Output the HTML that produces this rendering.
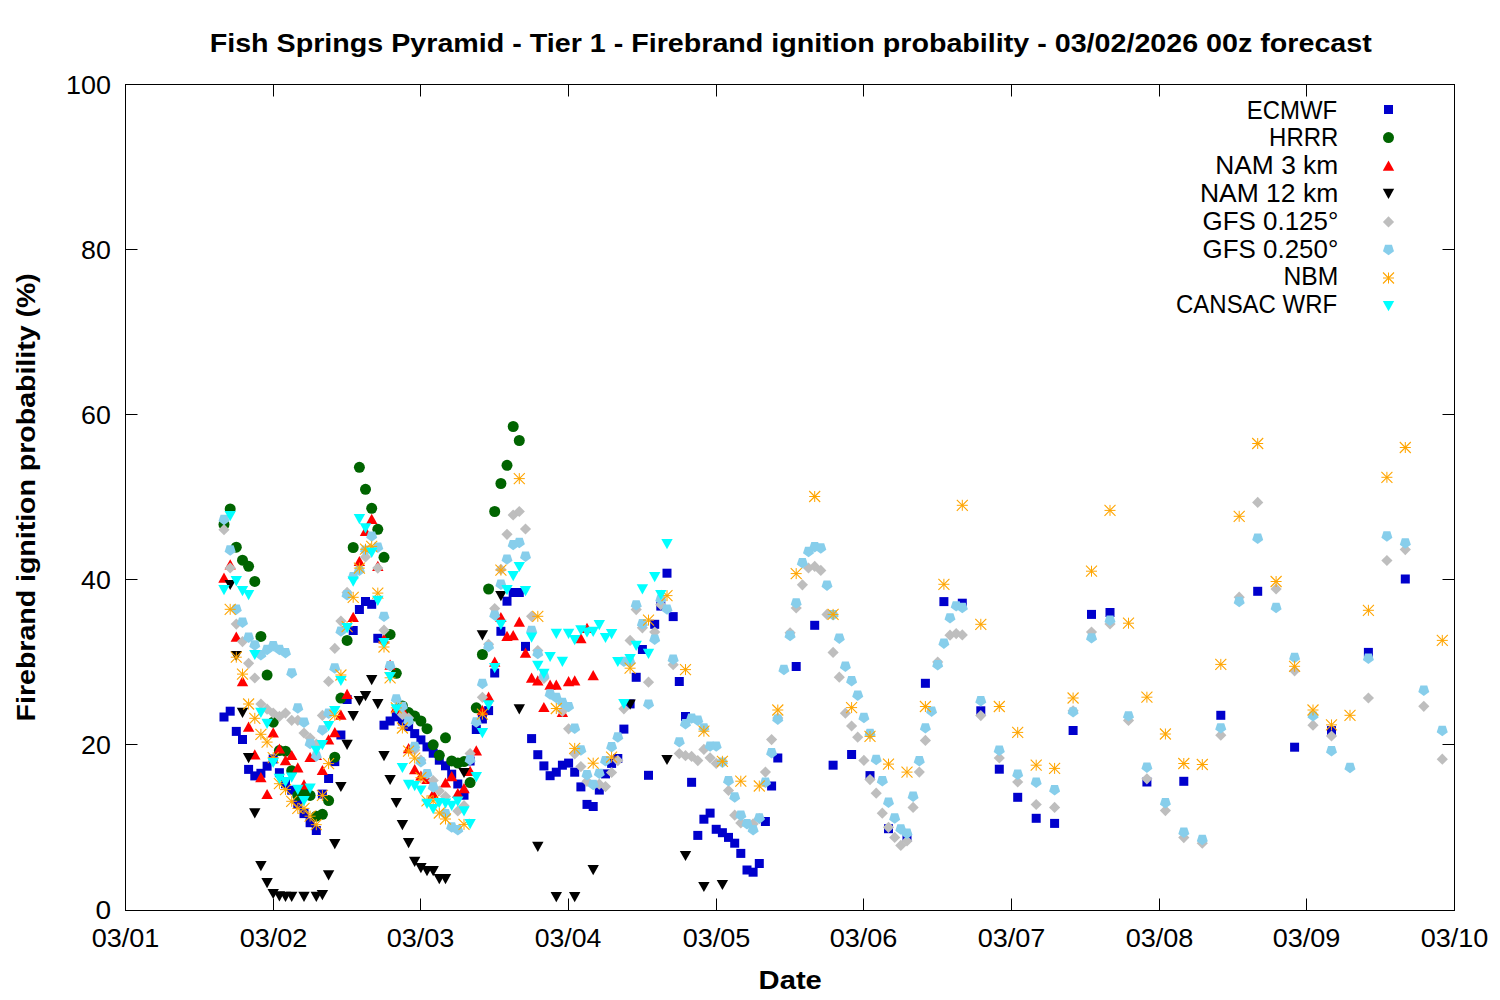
<!DOCTYPE html>
<html><head><meta charset="utf-8"><title>Fish Springs Pyramid - Firebrand ignition probability</title>
<style>
html,body{margin:0;padding:0;background:#fff;}
svg{display:block;}
.t{font-family:"Liberation Sans",sans-serif;fill:#000;}
.b{font-family:"Liberation Sans",sans-serif;font-weight:bold;fill:#000;}
</style></head><body>
<svg width="1500" height="1000" viewBox="0 0 1500 1000"><rect x="125.5" y="84.5" width="1329.0" height="826.0" fill="none" stroke="#000" stroke-width="1"/><path d="M125.5 744.5h12M1454.5 744.5h-12M125.5 579.5h12M1454.5 579.5h-12M125.5 414.5h12M1454.5 414.5h-12M125.5 249.5h12M1454.5 249.5h-12M273.50 910.5v-12M273.50 84.5v12M420.50 910.5v-12M420.50 84.5v12M568.50 910.5v-12M568.50 84.5v12M716.50 910.5v-12M716.50 84.5v12M863.50 910.5v-12M863.50 84.5v12M1011.50 910.5v-12M1011.50 84.5v12M1159.50 910.5v-12M1159.50 84.5v12M1306.50 910.5v-12M1306.50 84.5v12" stroke="#000" stroke-width="1" fill="none"/><text x="209.70" y="51.50" class="b" font-size="26.2" textLength="1162.10" lengthAdjust="spacingAndGlyphs">Fish Springs Pyramid - Tier 1 - Firebrand ignition probability - 03/02/2026 00z forecast</text><text x="758.60" y="989.20" class="b" font-size="26.2" textLength="63.26" lengthAdjust="spacingAndGlyphs">Date</text><text x="95.40" y="919.20" class="t" font-size="25.5" textLength="15.61" lengthAdjust="spacingAndGlyphs">0</text><text x="81.00" y="754.20" class="t" font-size="25.5" textLength="29.80" lengthAdjust="spacingAndGlyphs">20</text><text x="81.00" y="589.20" class="t" font-size="25.5" textLength="29.80" lengthAdjust="spacingAndGlyphs">40</text><text x="81.00" y="424.20" class="t" font-size="25.5" textLength="29.80" lengthAdjust="spacingAndGlyphs">60</text><text x="81.00" y="259.20" class="t" font-size="25.5" textLength="29.80" lengthAdjust="spacingAndGlyphs">80</text><text x="65.90" y="94.20" class="t" font-size="25.5" textLength="45.00" lengthAdjust="spacingAndGlyphs">100</text><text x="91.65" y="947.10" class="t" font-size="25.5" textLength="67.74" lengthAdjust="spacingAndGlyphs">03/01</text><text x="239.65" y="947.10" class="t" font-size="25.5" textLength="67.79" lengthAdjust="spacingAndGlyphs">03/02</text><text x="386.66" y="947.10" class="t" font-size="25.5" textLength="67.74" lengthAdjust="spacingAndGlyphs">03/03</text><text x="534.66" y="947.10" class="t" font-size="25.5" textLength="66.70" lengthAdjust="spacingAndGlyphs">03/04</text><text x="682.66" y="947.10" class="t" font-size="25.5" textLength="67.73" lengthAdjust="spacingAndGlyphs">03/05</text><text x="829.67" y="947.10" class="t" font-size="25.5" textLength="67.74" lengthAdjust="spacingAndGlyphs">03/06</text><text x="977.67" y="947.10" class="t" font-size="25.5" textLength="67.73" lengthAdjust="spacingAndGlyphs">03/07</text><text x="1125.67" y="947.10" class="t" font-size="25.5" textLength="67.73" lengthAdjust="spacingAndGlyphs">03/08</text><text x="1272.67" y="947.10" class="t" font-size="25.5" textLength="67.74" lengthAdjust="spacingAndGlyphs">03/09</text><text x="1420.68" y="947.10" class="t" font-size="25.5" textLength="67.73" lengthAdjust="spacingAndGlyphs">03/10</text><text x="1246.75" y="118.70" class="t" font-size="25.5" textLength="90.48" lengthAdjust="spacingAndGlyphs">ECMWF</text><text x="1269.10" y="145.80" class="t" font-size="25.5" textLength="69.19" lengthAdjust="spacingAndGlyphs">HRRR</text><text x="1215.25" y="173.90" class="t" font-size="25.5" textLength="123.00" lengthAdjust="spacingAndGlyphs">NAM 3 km</text><text x="1199.90" y="202.00" class="t" font-size="25.5" textLength="138.35" lengthAdjust="spacingAndGlyphs">NAM 12 km</text><text x="1202.60" y="230.10" class="t" font-size="25.5" textLength="135.65" lengthAdjust="spacingAndGlyphs">GFS 0.125°</text><text x="1202.60" y="258.20" class="t" font-size="25.5" textLength="135.65" lengthAdjust="spacingAndGlyphs">GFS 0.250°</text><text x="1283.50" y="285.30" class="t" font-size="25.5" textLength="54.81" lengthAdjust="spacingAndGlyphs">NBM</text><text x="1176.00" y="313.40" class="t" font-size="25.5" textLength="161.20" lengthAdjust="spacingAndGlyphs">CANSAC WRF</text><text transform="translate(34.60 721.40) rotate(-90)" class="b" font-size="26.4" textLength="448.21" lengthAdjust="spacingAndGlyphs">Firebrand ignition probability (%)</text><g fill="#0000cc"><rect x="1384.0" y="105.0" width="9" height="9"/></g><g fill="#006400"><circle cx="1388.5" cy="137.6" r="5.5"/></g><g fill="#ff0000"><path d="M1388.5 160.5L1394.2 170.7H1382.8Z"/></g><g fill="#000000"><path d="M1382.8 188.8H1394.2L1388.5 199.0Z"/></g><g fill="#bebebe"><path d="M1388.5 216.3L1394.1 221.9L1388.5 227.5L1382.9 221.9Z"/></g><g fill="#87ceeb"><path d="M1388.5 255.2L1383.0 251.2L1385.1 244.7L1391.9 244.7L1394.0 251.2Z"/></g><g stroke="#ffa500" stroke-width="1" fill="none"><path d="M1383.0 278.0H1394.0M1388.5 272.5V283.5"/><path stroke-width="1.1" d="M1383.0 272.5L1394.0 283.5M1383.0 283.5L1394.0 272.5"/></g><g fill="#00ffff"><path d="M1382.8 301.1H1394.2L1388.5 311.3Z"/></g><g fill="#0000cc"><rect x="219.5" y="712.5" width="9" height="9"/><rect x="225.7" y="706.7" width="9" height="9"/><rect x="231.8" y="726.9" width="9" height="9"/><rect x="238.0" y="735.0" width="9" height="9"/><rect x="244.1" y="764.9" width="9" height="9"/><rect x="250.3" y="771.4" width="9" height="9"/><rect x="256.4" y="768.8" width="9" height="9"/><rect x="262.6" y="761.7" width="9" height="9"/><rect x="268.7" y="754.5" width="9" height="9"/><rect x="274.9" y="768.2" width="9" height="9"/><rect x="281.0" y="779.2" width="9" height="9"/><rect x="287.2" y="785.7" width="9" height="9"/><rect x="293.3" y="800.0" width="9" height="9"/><rect x="299.5" y="809.1" width="9" height="9"/><rect x="305.6" y="818.2" width="9" height="9"/><rect x="311.8" y="826.0" width="9" height="9"/><rect x="317.9" y="789.6" width="9" height="9"/><rect x="324.1" y="774.0" width="9" height="9"/><rect x="330.3" y="757.1" width="9" height="9"/><rect x="336.4" y="730.5" width="9" height="9"/><rect x="342.6" y="695.0" width="9" height="9"/><rect x="348.7" y="626.0" width="9" height="9"/><rect x="354.9" y="605.0" width="9" height="9"/><rect x="361.0" y="597.0" width="9" height="9"/><rect x="367.2" y="599.8" width="9" height="9"/><rect x="373.3" y="633.8" width="9" height="9"/><rect x="379.5" y="720.7" width="9" height="9"/><rect x="385.6" y="716.5" width="9" height="9"/><rect x="391.8" y="712.3" width="9" height="9"/><rect x="397.9" y="716.5" width="9" height="9"/><rect x="404.1" y="722.1" width="9" height="9"/><rect x="410.2" y="729.1" width="9" height="9"/><rect x="416.4" y="735.4" width="9" height="9"/><rect x="422.5" y="742.4" width="9" height="9"/><rect x="428.7" y="748.7" width="9" height="9"/><rect x="434.8" y="755.7" width="9" height="9"/><rect x="441.0" y="761.3" width="9" height="9"/><rect x="447.2" y="769.7" width="9" height="9"/><rect x="453.3" y="779.5" width="9" height="9"/><rect x="459.5" y="790.7" width="9" height="9"/><rect x="465.6" y="756.5" width="9" height="9"/><rect x="471.8" y="725.0" width="9" height="9"/><rect x="477.9" y="714.5" width="9" height="9"/><rect x="484.1" y="706.1" width="9" height="9"/><rect x="490.2" y="668.5" width="9" height="9"/><rect x="496.4" y="626.8" width="9" height="9"/><rect x="502.5" y="596.7" width="9" height="9"/><rect x="508.7" y="588.0" width="9" height="9"/><rect x="514.8" y="588.0" width="9" height="9"/><rect x="521.0" y="641.9" width="9" height="9"/><rect x="527.1" y="734.1" width="9" height="9"/><rect x="533.3" y="750.2" width="9" height="9"/><rect x="539.4" y="761.4" width="9" height="9"/><rect x="545.6" y="771.2" width="9" height="9"/><rect x="551.8" y="767.7" width="9" height="9"/><rect x="557.9" y="760.7" width="9" height="9"/><rect x="564.1" y="758.6" width="9" height="9"/><rect x="570.2" y="767.7" width="9" height="9"/><rect x="576.4" y="782.4" width="9" height="9"/><rect x="582.5" y="799.9" width="9" height="9"/><rect x="588.7" y="802.0" width="9" height="9"/><rect x="594.8" y="785.6" width="9" height="9"/><rect x="601.0" y="769.4" width="9" height="9"/><rect x="607.1" y="758.9" width="9" height="9"/><rect x="613.3" y="754.0" width="9" height="9"/><rect x="619.4" y="724.6" width="9" height="9"/><rect x="625.6" y="699.4" width="9" height="9"/><rect x="631.7" y="672.8" width="9" height="9"/><rect x="637.9" y="645.0" width="9" height="9"/><rect x="644.0" y="770.8" width="9" height="9"/><rect x="650.2" y="619.8" width="9" height="9"/><rect x="656.3" y="601.6" width="9" height="9"/><rect x="662.5" y="568.7" width="9" height="9"/><rect x="668.7" y="612.1" width="9" height="9"/><rect x="674.8" y="677.0" width="9" height="9"/><rect x="681.0" y="712.0" width="9" height="9"/><rect x="687.1" y="777.8" width="9" height="9"/><rect x="693.3" y="830.9" width="9" height="9"/><rect x="699.4" y="814.7" width="9" height="9"/><rect x="705.6" y="808.6" width="9" height="9"/><rect x="711.7" y="824.8" width="9" height="9"/><rect x="717.9" y="828.2" width="9" height="9"/><rect x="724.0" y="832.9" width="9" height="9"/><rect x="730.2" y="838.7" width="9" height="9"/><rect x="736.3" y="848.9" width="9" height="9"/><rect x="742.5" y="865.5" width="9" height="9"/><rect x="748.6" y="867.7" width="9" height="9"/><rect x="754.8" y="859.0" width="9" height="9"/><rect x="760.9" y="817.0" width="9" height="9"/><rect x="767.1" y="781.5" width="9" height="9"/><rect x="773.3" y="753.5" width="9" height="9"/><rect x="791.7" y="662.0" width="9" height="9"/><rect x="810.2" y="620.8" width="9" height="9"/><rect x="828.6" y="760.7" width="9" height="9"/><rect x="847.1" y="750.0" width="9" height="9"/><rect x="865.5" y="771.1" width="9" height="9"/><rect x="884.0" y="824.2" width="9" height="9"/><rect x="902.5" y="832.9" width="9" height="9"/><rect x="920.9" y="678.8" width="9" height="9"/><rect x="939.4" y="597.1" width="9" height="9"/><rect x="957.8" y="598.7" width="9" height="9"/><rect x="976.3" y="706.3" width="9" height="9"/><rect x="994.8" y="764.7" width="9" height="9"/><rect x="1013.2" y="792.8" width="9" height="9"/><rect x="1031.7" y="813.8" width="9" height="9"/><rect x="1050.1" y="818.9" width="9" height="9"/><rect x="1068.6" y="726.0" width="9" height="9"/><rect x="1087.0" y="609.9" width="9" height="9"/><rect x="1105.5" y="608.0" width="9" height="9"/><rect x="1142.4" y="777.5" width="9" height="9"/><rect x="1179.3" y="776.8" width="9" height="9"/><rect x="1216.3" y="710.8" width="9" height="9"/><rect x="1253.2" y="586.8" width="9" height="9"/><rect x="1290.1" y="742.7" width="9" height="9"/><rect x="1327.0" y="726.1" width="9" height="9"/><rect x="1363.9" y="647.9" width="9" height="9"/><rect x="1400.8" y="574.5" width="9" height="9"/></g><g fill="#006400"><circle cx="224.0" cy="524.5" r="5.5"/><circle cx="230.2" cy="508.9" r="5.5"/><circle cx="236.3" cy="547.2" r="5.5"/><circle cx="242.5" cy="560.2" r="5.5"/><circle cx="248.6" cy="566.3" r="5.5"/><circle cx="254.8" cy="581.4" r="5.5"/><circle cx="260.9" cy="636.4" r="5.5"/><circle cx="267.1" cy="675.1" r="5.5"/><circle cx="273.2" cy="722.2" r="5.5"/><circle cx="279.4" cy="750.6" r="5.5"/><circle cx="285.5" cy="751.2" r="5.5"/><circle cx="291.7" cy="770.7" r="5.5"/><circle cx="297.8" cy="795.4" r="5.5"/><circle cx="304.0" cy="790.9" r="5.5"/><circle cx="310.1" cy="795.4" r="5.5"/><circle cx="316.3" cy="816.2" r="5.5"/><circle cx="322.4" cy="814.3" r="5.5"/><circle cx="328.6" cy="800.6" r="5.5"/><circle cx="334.8" cy="757.2" r="5.5"/><circle cx="340.9" cy="698.1" r="5.5"/><circle cx="347.1" cy="640.4" r="5.5"/><circle cx="353.2" cy="547.5" r="5.5"/><circle cx="359.4" cy="467.3" r="5.5"/><circle cx="365.5" cy="489.3" r="5.5"/><circle cx="371.7" cy="508.3" r="5.5"/><circle cx="377.8" cy="529.3" r="5.5"/><circle cx="384.0" cy="557.3" r="5.5"/><circle cx="390.1" cy="634.4" r="5.5"/><circle cx="396.3" cy="673.3" r="5.5"/><circle cx="402.4" cy="706.0" r="5.5"/><circle cx="408.6" cy="712.6" r="5.5"/><circle cx="414.7" cy="716.1" r="5.5"/><circle cx="420.9" cy="721.0" r="5.5"/><circle cx="427.0" cy="728.7" r="5.5"/><circle cx="433.2" cy="744.8" r="5.5"/><circle cx="439.3" cy="755.3" r="5.5"/><circle cx="445.5" cy="737.8" r="5.5"/><circle cx="451.7" cy="760.9" r="5.5"/><circle cx="457.8" cy="763.0" r="5.5"/><circle cx="464.0" cy="761.6" r="5.5"/><circle cx="470.1" cy="782.6" r="5.5"/><circle cx="476.3" cy="707.8" r="5.5"/><circle cx="482.4" cy="654.5" r="5.5"/><circle cx="488.6" cy="589.0" r="5.5"/><circle cx="494.7" cy="511.5" r="5.5"/><circle cx="500.9" cy="483.5" r="5.5"/><circle cx="507.0" cy="465.3" r="5.5"/><circle cx="513.2" cy="426.5" r="5.5"/><circle cx="519.3" cy="440.5" r="5.5"/></g><g fill="#ff0000"><path d="M224.0 572.6L229.7 582.8H218.3Z"/><path d="M230.2 559.2L235.9 569.4H224.5Z"/><path d="M236.3 631.6L242.0 641.8H230.6Z"/><path d="M242.5 676.1L248.2 686.3H236.8Z"/><path d="M248.6 721.6L254.3 731.8H242.9Z"/><path d="M254.8 749.3L260.5 759.5H249.1Z"/><path d="M260.9 772.0L266.6 782.2H255.2Z"/><path d="M267.1 788.9L272.8 799.1H261.4Z"/><path d="M273.2 727.2L278.9 737.4H267.5Z"/><path d="M279.4 743.4L285.1 753.6H273.7Z"/><path d="M285.5 755.1L291.2 765.3H279.8Z"/><path d="M291.7 749.9L297.4 760.1H286.0Z"/><path d="M297.8 762.3L303.5 772.5H292.1Z"/><path d="M304.0 779.2L309.7 789.4H298.3Z"/><path d="M310.1 751.9L315.8 762.1H304.4Z"/><path d="M316.3 749.8L322.0 760.0H310.6Z"/><path d="M322.4 764.9L328.1 775.1H316.7Z"/><path d="M328.6 734.3L334.3 744.5H322.9Z"/><path d="M334.8 727.1L340.5 737.3H329.1Z"/><path d="M340.9 709.5L346.6 719.7H335.2Z"/><path d="M347.1 688.7L352.8 698.9H341.4Z"/><path d="M353.2 611.7L358.9 621.9H347.5Z"/><path d="M359.4 555.9L365.1 566.1H353.7Z"/><path d="M365.5 525.8L371.2 536.0H359.8Z"/><path d="M371.7 513.8L377.4 524.0H366.0Z"/><path d="M377.8 560.8L383.5 571.0H372.1Z"/><path d="M384.0 633.4L389.7 643.6H378.3Z"/><path d="M390.1 659.6L395.8 669.8H384.4Z"/><path d="M396.3 702.0L402.0 712.2H390.6Z"/><path d="M402.4 704.3L408.1 714.5H396.7Z"/><path d="M408.6 743.1L414.3 753.3H402.9Z"/><path d="M414.7 764.1L420.4 774.3H409.0Z"/><path d="M420.9 770.4L426.6 780.6H415.2Z"/><path d="M427.0 773.8L432.7 784.0H421.3Z"/><path d="M433.2 788.6L438.9 798.8H427.5Z"/><path d="M445.5 777.4L451.2 787.6H439.8Z"/><path d="M451.7 771.1L457.4 781.3H446.0Z"/><path d="M457.8 787.9L463.5 798.1H452.1Z"/><path d="M464.0 783.0L469.7 793.2H458.3Z"/><path d="M470.1 765.8L475.8 776.0H464.4Z"/><path d="M476.3 745.3L482.0 755.5H470.6Z"/><path d="M482.4 705.1L488.1 715.3H476.7Z"/><path d="M488.6 691.4L494.3 701.6H482.9Z"/><path d="M494.7 656.6L500.4 666.8H489.0Z"/><path d="M500.9 611.9L506.6 622.1H495.2Z"/><path d="M507.0 630.7L512.7 640.9H501.3Z"/><path d="M513.2 630.0L518.9 640.2H507.5Z"/><path d="M519.3 616.6L525.0 626.8H513.6Z"/><path d="M525.5 647.5L531.2 657.7H519.8Z"/><path d="M531.6 672.5L537.3 682.7H525.9Z"/><path d="M537.8 675.3L543.5 685.5H532.1Z"/><path d="M543.9 701.9L549.6 712.1H538.2Z"/><path d="M550.1 679.5L555.8 689.7H544.4Z"/><path d="M556.3 679.5L562.0 689.7H550.6Z"/><path d="M562.4 706.8L568.1 717.0H556.7Z"/><path d="M568.6 676.0L574.3 686.2H562.9Z"/><path d="M574.7 675.3L580.4 685.5H569.0Z"/><path d="M580.9 633.1L586.6 643.3H575.2Z"/><path d="M587.0 622.7L592.7 632.9H581.3Z"/><path d="M593.2 670.0L598.9 680.2H587.5Z"/></g><g fill="#000000"><path d="M224.5 579.9H235.9L230.2 590.1Z"/><path d="M230.6 650.9H242.0L236.3 661.1Z"/><path d="M236.8 707.7H248.2L242.5 717.9Z"/><path d="M242.9 753.0H254.3L248.6 763.2Z"/><path d="M249.1 808.2H260.5L254.8 818.4Z"/><path d="M255.2 861.0H266.6L260.9 871.2Z"/><path d="M261.4 878.0H272.8L267.1 888.2Z"/><path d="M267.5 888.9H278.9L273.2 899.1Z"/><path d="M273.7 891.3H285.1L279.4 901.5Z"/><path d="M279.8 891.8H291.2L285.5 902.0Z"/><path d="M286.0 891.8H297.4L291.7 902.0Z"/><path d="M298.3 891.8H309.7L304.0 902.0Z"/><path d="M310.6 891.8H322.0L316.3 902.0Z"/><path d="M316.7 890.0H328.1L322.4 900.2Z"/><path d="M322.9 870.2H334.3L328.6 880.4Z"/><path d="M329.1 839.0H340.5L334.8 849.2Z"/><path d="M335.2 781.9H346.6L340.9 792.1Z"/><path d="M341.4 739.8H352.8L347.1 750.0Z"/><path d="M347.5 711.1H358.9L353.2 721.3Z"/><path d="M353.7 695.9H365.1L359.4 706.1Z"/><path d="M359.8 691.0H371.2L365.5 701.2Z"/><path d="M366.0 675.0H377.4L371.7 685.2Z"/><path d="M372.1 699.0H383.5L377.8 709.2Z"/><path d="M378.3 751.0H389.7L384.0 761.2Z"/><path d="M384.4 774.9H395.8L390.1 785.1Z"/><path d="M390.6 797.9H402.0L396.3 808.1Z"/><path d="M396.7 820.0H408.1L402.4 830.2Z"/><path d="M402.9 838.0H414.3L408.6 848.2Z"/><path d="M409.0 856.8H420.4L414.7 867.0Z"/><path d="M415.2 863.1H426.6L420.9 873.3Z"/><path d="M421.3 866.0H432.7L427.0 876.2Z"/><path d="M427.5 866.0H438.9L433.2 876.2Z"/><path d="M433.6 874.0H445.0L439.3 884.2Z"/><path d="M439.8 874.0H451.2L445.5 884.2Z"/><path d="M458.3 767.9H469.7L464.0 778.1Z"/><path d="M476.7 630.2H488.1L482.4 640.4Z"/><path d="M495.2 591.0H506.6L500.9 601.2Z"/><path d="M513.6 704.2H525.0L519.3 714.4Z"/><path d="M532.1 841.8H543.5L537.8 852.0Z"/><path d="M550.6 892.1H562.0L556.3 902.3Z"/><path d="M569.0 892.1H580.4L574.7 902.3Z"/><path d="M587.5 865.0H598.9L593.2 875.2Z"/><path d="M624.4 699.6H635.8L630.1 709.8Z"/><path d="M661.3 754.9H672.7L667.0 765.1Z"/><path d="M679.8 850.9H691.2L685.5 861.1Z"/><path d="M698.2 881.9H709.6L703.9 892.1Z"/><path d="M716.7 879.9H728.1L722.4 890.1Z"/></g><g fill="#bebebe"><path d="M224.0 524.1L229.6 529.7L224.0 535.3L218.4 529.7Z"/><path d="M230.2 562.4L235.8 568.0L230.2 573.6L224.6 568.0Z"/><path d="M236.3 618.5L241.9 624.1L236.3 629.7L230.7 624.1Z"/><path d="M242.5 636.0L248.1 641.6L242.5 647.2L236.9 641.6Z"/><path d="M248.6 657.7L254.2 663.3L248.6 668.9L243.0 663.3Z"/><path d="M254.8 672.4L260.4 678.0L254.8 683.6L249.2 678.0Z"/><path d="M260.9 698.4L266.5 704.0L260.9 709.6L255.3 704.0Z"/><path d="M267.1 703.6L272.7 709.2L267.1 714.8L261.5 709.2Z"/><path d="M273.2 707.5L278.8 713.1L273.2 718.7L267.6 713.1Z"/><path d="M279.4 710.8L285.0 716.4L279.4 722.0L273.8 716.4Z"/><path d="M285.5 707.5L291.1 713.1L285.5 718.7L279.9 713.1Z"/><path d="M291.7 714.7L297.3 720.3L291.7 725.9L286.1 720.3Z"/><path d="M297.8 714.7L303.4 720.3L297.8 725.9L292.2 720.3Z"/><path d="M304.0 727.4L309.6 733.0L304.0 738.6L298.4 733.0Z"/><path d="M310.1 732.4L315.7 738.0L310.1 743.6L304.5 738.0Z"/><path d="M316.3 738.5L321.9 744.1L316.3 749.7L310.7 744.1Z"/><path d="M322.4 709.8L328.0 715.4L322.4 721.0L316.8 715.4Z"/><path d="M328.6 675.8L334.2 681.4L328.6 687.0L323.0 681.4Z"/><path d="M334.8 642.8L340.4 648.4L334.8 654.0L329.2 648.4Z"/><path d="M340.9 615.5L346.5 621.1L340.9 626.7L335.3 621.1Z"/><path d="M347.1 586.8L352.7 592.4L347.1 598.0L341.5 592.4Z"/><path d="M365.5 551.3L371.1 556.9L365.5 562.5L359.9 556.9Z"/><path d="M377.8 562.5L383.4 568.1L377.8 573.7L372.2 568.1Z"/><path d="M384.0 624.6L389.6 630.2L384.0 635.8L378.4 630.2Z"/><path d="M402.4 709.1L408.0 714.7L402.4 720.3L396.8 714.7Z"/><path d="M408.6 712.4L414.2 718.0L408.6 723.6L403.0 718.0Z"/><path d="M414.7 744.4L420.3 750.0L414.7 755.6L409.1 750.0Z"/><path d="M420.9 754.4L426.5 760.0L420.9 765.6L415.3 760.0Z"/><path d="M433.2 774.9L438.8 780.5L433.2 786.1L427.6 780.5Z"/><path d="M439.3 785.4L444.9 791.0L439.3 796.6L433.7 791.0Z"/><path d="M445.5 791.0L451.1 796.6L445.5 802.2L439.9 796.6Z"/><path d="M457.8 805.4L463.4 811.0L457.8 816.6L452.2 811.0Z"/><path d="M464.0 800.1L469.6 805.7L464.0 811.3L458.4 805.7Z"/><path d="M470.1 748.0L475.7 753.6L470.1 759.2L464.5 753.6Z"/><path d="M482.4 691.7L488.0 697.3L482.4 702.9L476.8 697.3Z"/><path d="M488.6 638.7L494.2 644.3L488.6 649.9L483.0 644.3Z"/><path d="M494.7 603.0L500.3 608.6L494.7 614.2L489.1 608.6Z"/><path d="M500.9 563.8L506.5 569.4L500.9 575.0L495.3 569.4Z"/><path d="M507.0 528.7L512.6 534.3L507.0 539.9L501.4 534.3Z"/><path d="M513.2 509.4L518.8 515.0L513.2 520.6L507.6 515.0Z"/><path d="M519.3 505.9L524.9 511.5L519.3 517.1L513.7 511.5Z"/><path d="M525.5 523.4L531.1 529.0L525.5 534.6L519.9 529.0Z"/><path d="M531.6 610.7L537.2 616.3L531.6 621.9L526.0 616.3Z"/><path d="M537.8 645.0L543.4 650.6L537.8 656.2L532.2 650.6Z"/><path d="M543.9 672.8L549.5 678.4L543.9 684.0L538.3 678.4Z"/><path d="M562.4 705.7L568.0 711.3L562.4 716.9L556.8 711.3Z"/><path d="M568.6 723.2L574.2 728.8L568.6 734.4L563.0 728.8Z"/><path d="M574.7 748.4L580.3 754.0L574.7 759.6L569.1 754.0Z"/><path d="M580.9 761.0L586.5 766.6L580.9 772.2L575.3 766.6Z"/><path d="M587.0 775.7L592.6 781.3L587.0 786.9L581.4 781.3Z"/><path d="M599.3 778.6L604.9 784.2L599.3 789.8L593.7 784.2Z"/><path d="M605.5 781.0L611.1 786.6L605.5 792.2L599.9 786.6Z"/><path d="M611.6 766.9L617.2 772.5L611.6 778.1L606.0 772.5Z"/><path d="M617.8 755.0L623.4 760.6L617.8 766.2L612.2 760.6Z"/><path d="M623.9 703.2L629.5 708.8L623.9 714.4L618.3 708.8Z"/><path d="M630.1 634.8L635.7 640.4L630.1 646.0L624.5 640.4Z"/><path d="M636.2 604.0L641.8 609.6L636.2 615.2L630.6 609.6Z"/><path d="M642.4 622.2L648.0 627.8L642.4 633.4L636.8 627.8Z"/><path d="M648.5 676.6L654.1 682.2L648.5 687.8L642.9 682.2Z"/><path d="M654.7 626.4L660.3 632.0L654.7 637.6L649.1 632.0Z"/><path d="M660.8 599.1L666.4 604.7L660.8 610.3L655.2 604.7Z"/><path d="M673.2 659.1L678.8 664.7L673.2 670.3L667.6 664.7Z"/><path d="M679.3 748.0L684.9 753.6L679.3 759.2L673.7 753.6Z"/><path d="M685.5 750.1L691.1 755.7L685.5 761.3L679.9 755.7Z"/><path d="M691.6 750.8L697.2 756.4L691.6 762.0L686.0 756.4Z"/><path d="M697.8 755.0L703.4 760.6L697.8 766.2L692.2 760.6Z"/><path d="M703.9 743.8L709.5 749.4L703.9 755.0L698.3 749.4Z"/><path d="M710.1 752.2L715.7 757.8L710.1 763.4L704.5 757.8Z"/><path d="M716.2 757.8L721.8 763.4L716.2 769.0L710.6 763.4Z"/><path d="M728.5 784.9L734.1 790.5L728.5 796.1L722.9 790.5Z"/><path d="M734.7 809.6L740.3 815.2L734.7 820.8L729.1 815.2Z"/><path d="M740.8 817.3L746.4 822.9L740.8 828.5L735.2 822.9Z"/><path d="M753.1 818.3L758.7 823.9L753.1 829.5L747.5 823.9Z"/><path d="M759.3 813.0L764.9 818.6L759.3 824.2L753.7 818.6Z"/><path d="M765.4 766.5L771.0 772.1L765.4 777.7L759.8 772.1Z"/><path d="M771.6 734.0L777.2 739.6L771.6 745.2L766.0 739.6Z"/><path d="M777.8 712.4L783.4 718.0L777.8 723.6L772.2 718.0Z"/><path d="M790.1 627.2L795.7 632.8L790.1 638.4L784.5 632.8Z"/><path d="M796.2 602.4L801.8 608.0L796.2 613.6L790.6 608.0Z"/><path d="M802.4 579.2L808.0 584.8L802.4 590.4L796.8 584.8Z"/><path d="M808.5 562.4L814.1 568.0L808.5 573.6L802.9 568.0Z"/><path d="M814.7 560.8L820.3 566.4L814.7 572.0L809.1 566.4Z"/><path d="M820.8 564.8L826.4 570.4L820.8 576.0L815.2 570.4Z"/><path d="M827.0 608.8L832.6 614.4L827.0 620.0L821.4 614.4Z"/><path d="M833.1 646.8L838.7 652.4L833.1 658.0L827.5 652.4Z"/><path d="M839.3 671.6L844.9 677.2L839.3 682.8L833.7 677.2Z"/><path d="M845.4 707.6L851.0 713.2L845.4 718.8L839.8 713.2Z"/><path d="M851.6 720.4L857.2 726.0L851.6 731.6L846.0 726.0Z"/><path d="M857.7 731.6L863.3 737.2L857.7 742.8L852.1 737.2Z"/><path d="M863.9 754.8L869.5 760.4L863.9 766.0L858.3 760.4Z"/><path d="M870.0 774.0L875.6 779.6L870.0 785.2L864.4 779.6Z"/><path d="M876.2 787.6L881.8 793.2L876.2 798.8L870.6 793.2Z"/><path d="M882.3 807.6L887.9 813.2L882.3 818.8L876.7 813.2Z"/><path d="M888.5 821.7L894.1 827.3L888.5 832.9L882.9 827.3Z"/><path d="M894.7 831.8L900.3 837.4L894.7 843.0L889.1 837.4Z"/><path d="M900.8 839.8L906.4 845.4L900.8 851.0L895.2 845.4Z"/><path d="M907.0 835.4L912.6 841.0L907.0 846.6L901.4 841.0Z"/><path d="M913.1 801.8L918.7 807.4L913.1 813.0L907.5 807.4Z"/><path d="M919.3 766.5L924.9 772.1L919.3 777.7L913.7 772.1Z"/><path d="M925.4 734.8L931.0 740.4L925.4 746.0L919.8 740.4Z"/><path d="M937.7 656.4L943.3 662.0L937.7 667.6L932.1 662.0Z"/><path d="M950.0 629.6L955.6 635.2L950.0 640.8L944.4 635.2Z"/><path d="M956.2 628.0L961.8 633.6L956.2 639.2L950.6 633.6Z"/><path d="M962.3 629.3L967.9 634.9L962.3 640.5L956.7 634.9Z"/><path d="M980.8 710.0L986.4 715.6L980.8 721.2L975.2 715.6Z"/><path d="M999.3 752.4L1004.9 758.0L999.3 763.6L993.7 758.0Z"/><path d="M1017.7 776.4L1023.3 782.0L1017.7 787.6L1012.1 782.0Z"/><path d="M1036.2 798.9L1041.8 804.5L1036.2 810.1L1030.6 804.5Z"/><path d="M1054.6 801.8L1060.2 807.4L1054.6 813.0L1049.0 807.4Z"/><path d="M1073.1 705.2L1078.7 710.8L1073.1 716.4L1067.5 710.8Z"/><path d="M1091.5 626.4L1097.1 632.0L1091.5 637.6L1085.9 632.0Z"/><path d="M1110.0 618.4L1115.6 624.0L1110.0 629.6L1104.4 624.0Z"/><path d="M1128.5 714.8L1134.1 720.4L1128.5 726.0L1122.9 720.4Z"/><path d="M1146.9 773.2L1152.5 778.8L1146.9 784.4L1141.3 778.8Z"/><path d="M1165.4 805.0L1171.0 810.6L1165.4 816.2L1159.8 810.6Z"/><path d="M1183.8 832.0L1189.4 837.6L1183.8 843.2L1178.2 837.6Z"/><path d="M1202.3 837.6L1207.9 843.2L1202.3 848.8L1196.7 843.2Z"/><path d="M1220.8 729.6L1226.4 735.2L1220.8 740.8L1215.2 735.2Z"/><path d="M1239.2 591.6L1244.8 597.2L1239.2 602.8L1233.6 597.2Z"/><path d="M1257.7 496.8L1263.3 502.4L1257.7 508.0L1252.1 502.4Z"/><path d="M1276.1 583.3L1281.7 588.9L1276.1 594.5L1270.5 588.9Z"/><path d="M1294.6 665.2L1300.2 670.8L1294.6 676.4L1289.0 670.8Z"/><path d="M1313.0 719.6L1318.6 725.2L1313.0 730.8L1307.4 725.2Z"/><path d="M1331.5 730.4L1337.1 736.0L1331.5 741.6L1325.9 736.0Z"/><path d="M1368.4 692.4L1374.0 698.0L1368.4 703.6L1362.8 698.0Z"/><path d="M1386.9 554.9L1392.5 560.5L1386.9 566.1L1381.3 560.5Z"/><path d="M1405.3 544.0L1410.9 549.6L1405.3 555.2L1399.7 549.6Z"/><path d="M1423.8 700.7L1429.4 706.3L1423.8 711.9L1418.2 706.3Z"/><path d="M1442.3 753.6L1447.9 759.2L1442.3 764.8L1436.7 759.2Z"/></g><g fill="#87ceeb"><path d="M224.0 525.2L218.5 521.1L220.6 514.7L227.4 514.7L229.5 521.1Z"/><path d="M230.2 555.7L224.6 551.7L226.7 545.2L233.6 545.2L235.7 551.7Z"/><path d="M236.3 614.9L230.8 610.8L232.9 604.4L239.7 604.4L241.8 610.8Z"/><path d="M242.5 628.0L236.9 624.0L239.0 617.5L245.9 617.5L248.0 624.0Z"/><path d="M248.6 643.0L243.1 638.9L245.2 632.5L252.0 632.5L254.1 638.9Z"/><path d="M254.8 650.8L249.2 646.7L251.4 640.3L258.2 640.3L260.3 646.7Z"/><path d="M260.9 660.5L255.4 656.5L257.5 650.0L264.3 650.0L266.4 656.5Z"/><path d="M267.1 655.3L261.6 651.3L263.7 644.8L270.5 644.8L272.6 651.3Z"/><path d="M273.2 651.4L267.7 647.4L269.8 640.9L276.6 640.9L278.7 647.4Z"/><path d="M279.4 655.3L273.9 651.3L276.0 644.8L282.8 644.8L284.9 651.3Z"/><path d="M285.5 658.6L280.0 654.5L282.1 648.1L288.9 648.1L291.0 654.5Z"/><path d="M291.7 678.7L286.2 674.7L288.3 668.2L295.1 668.2L297.2 674.7Z"/><path d="M297.8 713.8L292.3 709.8L294.4 703.3L301.2 703.3L303.3 709.8Z"/><path d="M304.0 728.1L298.5 724.1L300.6 717.6L307.4 717.6L309.5 724.1Z"/><path d="M310.1 749.3L304.6 745.3L306.7 738.8L313.5 738.8L315.7 745.3Z"/><path d="M316.3 761.7L310.8 757.6L312.9 751.2L319.7 751.2L321.8 757.6Z"/><path d="M322.4 735.7L316.9 731.6L319.0 725.2L325.9 725.2L328.0 731.6Z"/><path d="M328.6 719.0L323.1 714.9L325.2 708.5L332.0 708.5L334.1 714.9Z"/><path d="M334.8 673.8L329.2 669.7L331.3 663.3L338.2 663.3L340.3 669.7Z"/><path d="M340.9 636.8L335.4 632.8L337.5 626.4L344.3 626.4L346.4 632.8Z"/><path d="M347.1 600.4L341.5 596.4L343.6 590.0L350.5 590.0L352.6 596.4Z"/><path d="M353.2 582.4L347.7 578.4L349.8 572.0L356.6 572.0L358.7 578.4Z"/><path d="M359.4 576.1L353.8 572.1L356.0 565.7L362.8 565.7L364.9 572.1Z"/><path d="M365.5 555.8L360.0 551.8L362.1 545.4L368.9 545.4L371.0 551.8Z"/><path d="M371.7 541.8L366.2 537.8L368.3 531.4L375.1 531.4L377.2 537.8Z"/><path d="M377.8 553.0L372.3 549.0L374.4 542.6L381.2 542.6L383.3 549.0Z"/><path d="M384.0 622.1L378.5 618.1L380.6 611.7L387.4 611.7L389.5 618.1Z"/><path d="M390.1 671.6L384.6 667.6L386.7 661.1L393.5 661.1L395.6 667.6Z"/><path d="M396.3 704.7L390.8 700.7L392.9 694.3L399.7 694.3L401.8 700.7Z"/><path d="M402.4 712.2L396.9 708.2L399.0 701.8L405.8 701.8L407.9 708.2Z"/><path d="M408.6 726.9L403.1 722.9L405.2 716.5L412.0 716.5L414.1 722.9Z"/><path d="M414.7 752.1L409.2 748.1L411.3 741.7L418.1 741.7L420.3 748.1Z"/><path d="M420.9 767.5L415.4 763.5L417.5 757.1L424.3 757.1L426.4 763.5Z"/><path d="M427.0 779.4L421.5 775.4L423.6 769.0L430.5 769.0L432.6 775.4Z"/><path d="M433.2 792.7L427.7 788.7L429.8 782.3L436.6 782.3L438.7 788.7Z"/><path d="M445.5 819.6L440.0 815.6L442.1 809.1L448.9 809.1L451.0 815.6Z"/><path d="M451.7 832.7L446.1 828.7L448.2 822.3L455.1 822.3L457.2 828.7Z"/><path d="M457.8 835.6L452.3 831.6L454.4 825.1L461.2 825.1L463.3 831.6Z"/><path d="M470.1 765.4L464.6 761.4L466.7 755.0L473.5 755.0L475.6 761.4Z"/><path d="M476.3 727.7L470.7 723.7L472.9 717.3L479.7 717.3L481.8 723.7Z"/><path d="M482.4 689.2L476.9 685.2L479.0 678.8L485.8 678.8L487.9 685.2Z"/><path d="M488.6 652.3L483.1 648.3L485.2 641.9L492.0 641.9L494.1 648.3Z"/><path d="M494.7 620.8L489.2 616.8L491.3 610.4L498.1 610.4L500.2 616.8Z"/><path d="M500.9 590.0L495.4 586.0L497.5 579.6L504.3 579.6L506.4 586.0Z"/><path d="M507.0 564.8L501.5 560.8L503.6 554.4L510.4 554.4L512.5 560.8Z"/><path d="M513.2 550.3L507.7 546.3L509.8 539.9L516.6 539.9L518.7 546.3Z"/><path d="M519.3 548.2L513.8 544.2L515.9 537.8L522.7 537.8L524.9 544.2Z"/><path d="M525.5 562.0L520.0 558.0L522.1 551.6L528.9 551.6L531.0 558.0Z"/><path d="M531.6 636.2L526.1 632.2L528.2 625.8L535.0 625.8L537.2 632.2Z"/><path d="M537.8 659.3L532.3 655.3L534.4 648.9L541.2 648.9L543.3 655.3Z"/><path d="M543.9 681.5L538.4 677.4L540.5 671.0L547.4 671.0L549.5 677.4Z"/><path d="M550.1 699.7L544.6 695.7L546.7 689.3L553.5 689.3L555.6 695.7Z"/><path d="M556.3 703.2L550.7 699.2L552.8 692.8L559.7 692.8L561.8 699.2Z"/><path d="M562.4 708.1L556.9 704.1L559.0 697.7L565.8 697.7L567.9 704.1Z"/><path d="M568.6 712.3L563.0 708.3L565.1 701.9L572.0 701.9L574.1 708.3Z"/><path d="M574.7 734.0L569.2 730.0L571.3 723.6L578.1 723.6L580.2 730.0Z"/><path d="M580.9 755.7L575.3 751.7L577.5 745.3L584.3 745.3L586.4 751.7Z"/><path d="M587.0 780.4L581.5 776.4L583.6 769.9L590.4 769.9L592.5 776.4Z"/><path d="M593.2 790.2L587.7 786.2L589.8 779.7L596.6 779.7L598.7 786.2Z"/><path d="M599.3 779.1L593.8 775.1L595.9 768.7L602.7 768.7L604.8 775.1Z"/><path d="M605.5 766.5L600.0 762.5L602.1 756.1L608.9 756.1L611.0 762.5Z"/><path d="M611.6 752.5L606.1 748.5L608.2 742.1L615.0 742.1L617.1 748.5Z"/><path d="M617.8 742.7L612.3 738.7L614.4 732.3L621.2 732.3L623.3 738.7Z"/><path d="M623.9 667.1L618.4 663.1L620.5 656.7L627.3 656.7L629.4 663.1Z"/><path d="M630.1 667.8L624.6 663.8L626.7 657.4L633.5 657.4L635.6 663.8Z"/><path d="M636.2 610.6L630.7 606.6L632.8 600.2L639.6 600.2L641.8 606.6Z"/><path d="M642.4 629.5L636.9 625.5L639.0 619.1L645.8 619.1L647.9 625.5Z"/><path d="M648.5 709.8L643.0 705.8L645.1 699.4L652.0 699.4L654.1 705.8Z"/><path d="M654.7 644.9L649.2 640.9L651.3 634.5L658.1 634.5L660.2 640.9Z"/><path d="M660.8 605.0L655.3 601.0L657.4 594.6L664.3 594.6L666.4 601.0Z"/><path d="M667.0 614.8L661.5 610.8L663.6 604.4L670.4 604.4L672.5 610.8Z"/><path d="M673.2 665.0L667.6 661.0L669.7 654.6L676.6 654.6L678.7 661.0Z"/><path d="M679.3 747.6L673.8 743.6L675.9 737.2L682.7 737.2L684.8 743.6Z"/><path d="M685.5 729.4L679.9 725.4L682.1 719.0L688.9 719.0L691.0 725.4Z"/><path d="M691.6 723.8L686.1 719.8L688.2 713.4L695.0 713.4L697.1 719.8Z"/><path d="M697.8 725.9L692.2 721.9L694.4 715.5L701.2 715.5L703.3 721.9Z"/><path d="M703.9 733.6L698.4 729.6L700.5 723.2L707.3 723.2L709.4 729.6Z"/><path d="M710.1 751.8L704.6 747.8L706.7 741.4L713.5 741.4L715.6 747.8Z"/><path d="M716.2 751.8L710.7 747.8L712.8 741.4L719.6 741.4L721.7 747.8Z"/><path d="M722.4 767.9L716.9 763.8L719.0 757.4L725.8 757.4L727.9 763.8Z"/><path d="M728.5 786.5L723.0 782.4L725.1 776.0L731.9 776.0L734.0 782.4Z"/><path d="M734.7 802.8L729.2 798.8L731.3 792.3L738.1 792.3L740.2 798.8Z"/><path d="M740.8 820.9L735.3 816.9L737.4 810.4L744.2 810.4L746.4 816.9Z"/><path d="M747.0 829.6L741.5 825.6L743.6 819.1L750.4 819.1L752.5 825.6Z"/><path d="M753.1 835.4L747.6 831.4L749.7 824.9L756.5 824.9L758.7 831.4Z"/><path d="M759.3 823.8L753.8 819.8L755.9 813.3L762.7 813.3L764.8 819.8Z"/><path d="M765.4 788.0L759.9 784.0L762.0 777.6L768.9 777.6L771.0 784.0Z"/><path d="M771.6 758.5L766.1 754.4L768.2 748.0L775.0 748.0L777.1 754.4Z"/><path d="M777.8 724.9L772.2 720.8L774.3 714.4L781.2 714.4L783.3 720.8Z"/><path d="M783.9 675.2L778.4 671.2L780.5 664.8L787.3 664.8L789.4 671.2Z"/><path d="M790.1 641.2L784.5 637.2L786.6 630.8L793.5 630.8L795.6 637.2Z"/><path d="M796.2 608.8L790.7 604.8L792.8 598.3L799.6 598.3L801.7 604.8Z"/><path d="M802.4 568.5L796.8 564.4L799.0 558.0L805.8 558.0L807.9 564.4Z"/><path d="M808.5 557.2L803.0 553.2L805.1 546.8L811.9 546.8L814.0 553.2Z"/><path d="M814.7 552.5L809.2 548.4L811.3 542.0L818.1 542.0L820.2 548.4Z"/><path d="M820.8 553.7L815.3 549.7L817.4 543.2L824.2 543.2L826.3 549.7Z"/><path d="M827.0 590.9L821.5 586.8L823.6 580.4L830.4 580.4L832.5 586.8Z"/><path d="M833.1 620.5L827.6 616.4L829.7 610.0L836.5 610.0L838.6 616.4Z"/><path d="M839.3 643.9L833.8 639.8L835.9 633.4L842.7 633.4L844.8 639.8Z"/><path d="M845.4 672.0L839.9 668.0L842.0 661.6L848.8 661.6L850.9 668.0Z"/><path d="M851.6 686.5L846.1 682.4L848.2 676.0L855.0 676.0L857.1 682.4Z"/><path d="M857.7 700.9L852.2 696.8L854.3 690.4L861.1 690.4L863.3 696.8Z"/><path d="M863.9 723.2L858.4 719.2L860.5 712.8L867.3 712.8L869.4 719.2Z"/><path d="M870.0 739.2L864.5 735.2L866.6 728.8L873.5 728.8L875.6 735.2Z"/><path d="M876.2 765.2L870.7 761.2L872.8 754.8L879.6 754.8L881.7 761.2Z"/><path d="M882.3 786.5L876.8 782.4L878.9 776.0L885.8 776.0L887.9 782.4Z"/><path d="M888.5 807.9L883.0 803.9L885.1 797.4L891.9 797.4L894.0 803.9Z"/><path d="M894.7 823.8L889.1 819.8L891.2 813.3L898.1 813.3L900.2 819.8Z"/><path d="M900.8 834.7L895.3 830.7L897.4 824.2L904.2 824.2L906.3 830.7Z"/><path d="M907.0 839.0L901.4 835.0L903.6 828.6L910.4 828.6L912.5 835.0Z"/><path d="M913.1 802.1L907.6 798.1L909.7 791.6L916.5 791.6L918.6 798.1Z"/><path d="M919.3 766.5L913.7 762.4L915.9 756.0L922.7 756.0L924.8 762.4Z"/><path d="M925.4 733.6L919.9 729.6L922.0 723.2L928.8 723.2L930.9 729.6Z"/><path d="M931.6 716.9L926.1 712.8L928.2 706.4L935.0 706.4L937.1 712.8Z"/><path d="M937.7 670.5L932.2 666.4L934.3 660.0L941.1 660.0L943.2 666.4Z"/><path d="M943.9 648.9L938.4 644.8L940.5 638.4L947.3 638.4L949.4 644.8Z"/><path d="M950.0 623.6L944.5 619.6L946.6 613.2L953.4 613.2L955.5 619.6Z"/><path d="M956.2 611.6L950.7 607.6L952.8 601.2L959.6 601.2L961.7 607.6Z"/><path d="M962.3 613.2L956.8 609.2L958.9 602.8L965.7 602.8L967.9 609.2Z"/><path d="M980.8 706.5L975.3 702.4L977.4 696.0L984.2 696.0L986.3 702.4Z"/><path d="M999.3 756.0L993.7 752.0L995.8 745.6L1002.7 745.6L1004.8 752.0Z"/><path d="M1017.7 780.0L1012.2 776.0L1014.3 769.6L1021.1 769.6L1023.2 776.0Z"/><path d="M1036.2 788.0L1030.7 784.0L1032.8 777.6L1039.6 777.6L1041.7 784.0Z"/><path d="M1054.6 795.4L1049.1 791.4L1051.2 784.9L1058.0 784.9L1060.1 791.4Z"/><path d="M1073.1 717.6L1067.6 713.6L1069.7 707.2L1076.5 707.2L1078.6 713.6Z"/><path d="M1091.5 643.6L1086.0 639.6L1088.1 633.2L1095.0 633.2L1097.1 639.6Z"/><path d="M1110.0 626.0L1104.5 622.0L1106.6 615.6L1113.4 615.6L1115.5 622.0Z"/><path d="M1128.5 721.6L1122.9 717.6L1125.1 711.2L1131.9 711.2L1134.0 717.6Z"/><path d="M1146.9 772.9L1141.4 768.8L1143.5 762.4L1150.3 762.4L1152.4 768.8Z"/><path d="M1165.4 808.6L1159.9 804.6L1162.0 798.1L1168.8 798.1L1170.9 804.6Z"/><path d="M1183.8 838.0L1178.3 834.0L1180.4 827.6L1187.2 827.6L1189.4 834.0Z"/><path d="M1202.3 845.2L1196.8 841.2L1198.9 834.8L1205.7 834.8L1207.8 841.2Z"/><path d="M1220.8 733.6L1215.2 729.6L1217.3 723.2L1224.2 723.2L1226.3 729.6Z"/><path d="M1239.2 607.2L1233.7 603.2L1235.8 596.8L1242.6 596.8L1244.7 603.2Z"/><path d="M1257.7 544.0L1252.2 540.0L1254.3 533.5L1261.1 533.5L1263.2 540.0Z"/><path d="M1276.1 613.2L1270.6 609.2L1272.7 602.7L1279.5 602.7L1281.6 609.2Z"/><path d="M1294.6 663.2L1289.1 659.2L1291.2 652.8L1298.0 652.8L1300.1 659.2Z"/><path d="M1313.0 721.6L1307.5 717.6L1309.6 711.2L1316.5 711.2L1318.6 717.6Z"/><path d="M1331.5 756.5L1326.0 752.4L1328.1 746.0L1334.9 746.0L1337.0 752.4Z"/><path d="M1350.0 773.2L1344.4 769.2L1346.6 762.8L1353.4 762.8L1355.5 769.2Z"/><path d="M1368.4 664.0L1362.9 660.0L1365.0 653.6L1371.8 653.6L1373.9 660.0Z"/><path d="M1386.9 541.7L1381.4 537.7L1383.5 531.2L1390.3 531.2L1392.4 537.7Z"/><path d="M1405.3 548.8L1399.8 544.8L1401.9 538.3L1408.7 538.3L1410.9 544.8Z"/><path d="M1423.8 696.0L1418.3 692.0L1420.4 685.6L1427.2 685.6L1429.3 692.0Z"/><path d="M1442.3 736.2L1436.7 732.2L1438.8 725.8L1445.7 725.8L1447.8 732.2Z"/></g><g stroke="#ffa500" stroke-width="1" fill="none"><path d="M224.7 609.3H235.7M230.2 603.8V614.8"/><path stroke-width="1.1" d="M224.7 603.8L235.7 614.8M224.7 614.8L235.7 603.8"/><path d="M230.8 657.2H241.8M236.3 651.7V662.7"/><path stroke-width="1.1" d="M230.8 651.7L241.8 662.7M230.8 662.7L241.8 651.7"/><path d="M237.0 674.1H248.0M242.5 668.6V679.6"/><path stroke-width="1.1" d="M237.0 668.6L248.0 679.6M237.0 679.6L248.0 668.6"/><path d="M243.1 704.0H254.1M248.6 698.5V709.5"/><path stroke-width="1.1" d="M243.1 698.5L254.1 709.5M243.1 709.5L254.1 698.5"/><path d="M249.3 718.3H260.3M254.8 712.8V723.8"/><path stroke-width="1.1" d="M249.3 712.8L260.3 723.8M249.3 723.8L260.3 712.8"/><path d="M255.4 734.3H266.4M260.9 728.8V739.8"/><path stroke-width="1.1" d="M255.4 728.8L266.4 739.8M255.4 739.8L266.4 728.8"/><path d="M261.6 742.1H272.6M267.1 736.6V747.6"/><path stroke-width="1.1" d="M261.6 736.6L272.6 747.6M261.6 747.6L272.6 736.6"/><path d="M267.7 757.7H278.7M273.2 752.2V763.2"/><path stroke-width="1.1" d="M267.7 752.2L278.7 763.2M267.7 763.2L278.7 752.2"/><path d="M273.9 783.7H284.9M279.4 778.2V789.2"/><path stroke-width="1.1" d="M273.9 778.2L284.9 789.2M273.9 789.2L284.9 778.2"/><path d="M280.0 789.6H291.0M285.5 784.1V795.1"/><path stroke-width="1.1" d="M280.0 784.1L291.0 795.1M280.0 795.1L291.0 784.1"/><path d="M286.2 801.3H297.2M291.7 795.8V806.8"/><path stroke-width="1.1" d="M286.2 795.8L297.2 806.8M286.2 806.8L297.2 795.8"/><path d="M292.3 808.4H303.3M297.8 802.9V813.9"/><path stroke-width="1.1" d="M292.3 802.9L303.3 813.9M292.3 813.9L303.3 802.9"/><path d="M298.5 808.4H309.5M304.0 802.9V813.9"/><path stroke-width="1.1" d="M298.5 802.9L309.5 813.9M298.5 813.9L309.5 802.9"/><path d="M304.6 816.2H315.6M310.1 810.7V821.7"/><path stroke-width="1.1" d="M304.6 810.7L315.6 821.7M304.6 821.7L315.6 810.7"/><path d="M310.8 824.7H321.8M316.3 819.2V830.2"/><path stroke-width="1.1" d="M310.8 819.2L321.8 830.2M310.8 830.2L321.8 819.2"/><path d="M316.9 795.4H327.9M322.4 789.9V800.9"/><path stroke-width="1.1" d="M316.9 789.9L327.9 800.9M316.9 800.9L327.9 789.9"/><path d="M323.1 763.6H334.1M328.6 758.1V769.1"/><path stroke-width="1.1" d="M323.1 758.1L334.1 769.1M323.1 769.1L334.1 758.1"/><path d="M329.3 715.4H340.3M334.8 709.9V720.9"/><path stroke-width="1.1" d="M329.3 709.9L340.3 720.9M329.3 720.9L340.3 709.9"/><path d="M335.4 675.0H346.4M340.9 669.5V680.5"/><path stroke-width="1.1" d="M335.4 669.5L346.4 680.5M335.4 680.5L346.4 669.5"/><path d="M341.6 626.7H352.6M347.1 621.2V632.2"/><path stroke-width="1.1" d="M341.6 621.2L352.6 632.2M341.6 632.2L352.6 621.2"/><path d="M347.7 597.3H358.7M353.2 591.8V602.8"/><path stroke-width="1.1" d="M347.7 591.8L358.7 602.8M347.7 602.8L358.7 591.8"/><path d="M353.9 568.1H364.9M359.4 562.6V573.6"/><path stroke-width="1.1" d="M353.9 562.6L364.9 573.6M353.9 573.6L364.9 562.6"/><path d="M360.0 549.2H371.0M365.5 543.7V554.7"/><path stroke-width="1.1" d="M360.0 543.7L371.0 554.7M360.0 554.7L371.0 543.7"/><path d="M366.2 546.4H377.2M371.7 540.9V551.9"/><path stroke-width="1.1" d="M366.2 540.9L377.2 551.9M366.2 551.9L377.2 540.9"/><path d="M372.3 593.1H383.3M377.8 587.6V598.6"/><path stroke-width="1.1" d="M372.3 587.6L383.3 598.6M372.3 598.6L383.3 587.6"/><path d="M378.5 647.0H389.5M384.0 641.5V652.5"/><path stroke-width="1.1" d="M378.5 641.5L389.5 652.5M378.5 652.5L389.5 641.5"/><path d="M384.6 677.8H395.6M390.1 672.3V683.3"/><path stroke-width="1.1" d="M384.6 672.3L395.6 683.3M384.6 683.3L395.6 672.3"/><path d="M390.8 707.9H401.8M396.3 702.4V713.4"/><path stroke-width="1.1" d="M390.8 702.4L401.8 713.4M390.8 713.4L401.8 702.4"/><path d="M396.9 728.0H407.9M402.4 722.5V733.5"/><path stroke-width="1.1" d="M396.9 722.5L407.9 733.5M396.9 733.5L407.9 722.5"/><path d="M403.1 751.1H414.1M408.6 745.6V756.6"/><path stroke-width="1.1" d="M403.1 745.6L414.1 756.6M403.1 756.6L414.1 745.6"/><path d="M409.2 758.1H420.2M414.7 752.6V763.6"/><path stroke-width="1.1" d="M409.2 752.6L420.2 763.6M409.2 763.6L420.2 752.6"/><path d="M415.4 777.7H426.4M420.9 772.2V783.2"/><path stroke-width="1.1" d="M415.4 772.2L426.4 783.2M415.4 783.2L426.4 772.2"/><path d="M421.5 800.8H432.5M427.0 795.3V806.3"/><path stroke-width="1.1" d="M421.5 795.3L432.5 806.3M421.5 806.3L432.5 795.3"/><path d="M427.7 800.8H438.7M433.2 795.3V806.3"/><path stroke-width="1.1" d="M427.7 795.3L438.7 806.3M427.7 806.3L438.7 795.3"/><path d="M433.8 813.0H444.8M439.3 807.5V818.5"/><path stroke-width="1.1" d="M433.8 807.5L444.8 818.5M433.8 818.5L444.8 807.5"/><path d="M440.0 819.0H451.0M445.5 813.5V824.5"/><path stroke-width="1.1" d="M440.0 813.5L451.0 824.5M440.0 824.5L451.0 813.5"/><path d="M458.5 824.4H469.5M464.0 818.9V829.9"/><path stroke-width="1.1" d="M458.5 818.9L469.5 829.9M458.5 829.9L469.5 818.9"/><path d="M476.9 714.1H487.9M482.4 708.6V719.6"/><path stroke-width="1.1" d="M476.9 708.6L487.9 719.6M476.9 719.6L487.9 708.6"/><path d="M495.4 570.1H506.4M500.9 564.6V575.6"/><path stroke-width="1.1" d="M495.4 564.6L506.4 575.6M495.4 575.6L506.4 564.6"/><path d="M513.8 478.6H524.8M519.3 473.1V484.1"/><path stroke-width="1.1" d="M513.8 473.1L524.8 484.1M513.8 484.1L524.8 473.1"/><path d="M532.3 616.3H543.3M537.8 610.8V621.8"/><path stroke-width="1.1" d="M532.3 610.8L543.3 621.8M532.3 621.8L543.3 610.8"/><path d="M550.8 708.5H561.8M556.3 703.0V714.0"/><path stroke-width="1.1" d="M550.8 703.0L561.8 714.0M550.8 714.0L561.8 703.0"/><path d="M569.2 748.4H580.2M574.7 742.9V753.9"/><path stroke-width="1.1" d="M569.2 742.9L580.2 753.9M569.2 753.9L580.2 742.9"/><path d="M587.7 763.2H598.7M593.2 757.7V768.7"/><path stroke-width="1.1" d="M587.7 757.7L598.7 768.7M587.7 768.7L598.7 757.7"/><path d="M606.1 757.1H617.1M611.6 751.6V762.6"/><path stroke-width="1.1" d="M606.1 751.6L617.1 762.6M606.1 762.6L617.1 751.6"/><path d="M624.6 668.2H635.6M630.1 662.7V673.7"/><path stroke-width="1.1" d="M624.6 662.7L635.6 673.7M624.6 673.7L635.6 662.7"/><path d="M643.0 620.1H654.0M648.5 614.6V625.6"/><path stroke-width="1.1" d="M643.0 614.6L654.0 625.6M643.0 625.6L654.0 614.6"/><path d="M661.5 595.6H672.5M667.0 590.1V601.1"/><path stroke-width="1.1" d="M661.5 590.1L672.5 601.1M661.5 601.1L672.5 590.1"/><path d="M680.0 669.6H691.0M685.5 664.1V675.1"/><path stroke-width="1.1" d="M680.0 664.1L691.0 675.1M680.0 675.1L691.0 664.1"/><path d="M698.4 731.2H709.4M703.9 725.7V736.7"/><path stroke-width="1.1" d="M698.4 725.7L709.4 736.7M698.4 736.7L709.4 725.7"/><path d="M716.9 761.3H727.9M722.4 755.8V766.8"/><path stroke-width="1.1" d="M716.9 755.8L727.9 766.8M716.9 766.8L727.9 755.8"/><path d="M735.3 781.2H746.3M740.8 775.7V786.7"/><path stroke-width="1.1" d="M735.3 775.7L746.3 786.7M735.3 786.7L746.3 775.7"/><path d="M753.8 786.0H764.8M759.3 780.5V791.5"/><path stroke-width="1.1" d="M753.8 780.5L764.8 791.5M753.8 791.5L764.8 780.5"/><path d="M772.3 710.0H783.3M777.8 704.5V715.5"/><path stroke-width="1.1" d="M772.3 704.5L783.3 715.5M772.3 715.5L783.3 704.5"/><path d="M790.7 573.6H801.7M796.2 568.1V579.1"/><path stroke-width="1.1" d="M790.7 568.1L801.7 579.1M790.7 579.1L801.7 568.1"/><path d="M809.2 496.5H820.2M814.7 491.0V502.0"/><path stroke-width="1.1" d="M809.2 491.0L820.2 502.0M809.2 502.0L820.2 491.0"/><path d="M827.6 614.4H838.6M833.1 608.9V619.9"/><path stroke-width="1.1" d="M827.6 608.9L838.6 619.9M827.6 619.9L838.6 608.9"/><path d="M846.1 707.6H857.1M851.6 702.1V713.1"/><path stroke-width="1.1" d="M846.1 702.1L857.1 713.1M846.1 713.1L857.1 702.1"/><path d="M864.5 736.4H875.5M870.0 730.9V741.9"/><path stroke-width="1.1" d="M864.5 730.9L875.5 741.9M864.5 741.9L875.5 730.9"/><path d="M883.0 764.1H894.0M888.5 758.6V769.6"/><path stroke-width="1.1" d="M883.0 758.6L894.0 769.6M883.0 769.6L894.0 758.6"/><path d="M901.5 772.1H912.5M907.0 766.6V777.6"/><path stroke-width="1.1" d="M901.5 766.6L912.5 777.6M901.5 777.6L912.5 766.6"/><path d="M919.9 706.5H930.9M925.4 701.0V712.0"/><path stroke-width="1.1" d="M919.9 701.0L930.9 712.0M919.9 712.0L930.9 701.0"/><path d="M938.4 584.3H949.4M943.9 578.8V589.8"/><path stroke-width="1.1" d="M938.4 578.8L949.4 589.8M938.4 589.8L949.4 578.8"/><path d="M956.8 505.3H967.8M962.3 499.8V510.8"/><path stroke-width="1.1" d="M956.8 499.8L967.8 510.8M956.8 510.8L967.8 499.8"/><path d="M975.3 624.3H986.3M980.8 618.8V629.8"/><path stroke-width="1.1" d="M975.3 618.8L986.3 629.8M975.3 629.8L986.3 618.8"/><path d="M993.8 706.5H1004.8M999.3 701.0V712.0"/><path stroke-width="1.1" d="M993.8 701.0L1004.8 712.0M993.8 712.0L1004.8 701.0"/><path d="M1012.2 732.4H1023.2M1017.7 726.9V737.9"/><path stroke-width="1.1" d="M1012.2 726.9L1023.2 737.9M1012.2 737.9L1023.2 726.9"/><path d="M1030.7 765.2H1041.7M1036.2 759.7V770.7"/><path stroke-width="1.1" d="M1030.7 759.7L1041.7 770.7M1030.7 770.7L1041.7 759.7"/><path d="M1049.1 768.4H1060.1M1054.6 762.9V773.9"/><path stroke-width="1.1" d="M1049.1 762.9L1060.1 773.9M1049.1 773.9L1060.1 762.9"/><path d="M1067.6 698.0H1078.6M1073.1 692.5V703.5"/><path stroke-width="1.1" d="M1067.6 692.5L1078.6 703.5M1067.6 703.5L1078.6 692.5"/><path d="M1086.0 571.2H1097.0M1091.5 565.7V576.7"/><path stroke-width="1.1" d="M1086.0 565.7L1097.0 576.7M1086.0 576.7L1097.0 565.7"/><path d="M1104.5 510.4H1115.5M1110.0 504.9V515.9"/><path stroke-width="1.1" d="M1104.5 504.9L1115.5 515.9M1104.5 515.9L1115.5 504.9"/><path d="M1123.0 623.2H1134.0M1128.5 617.7V628.7"/><path stroke-width="1.1" d="M1123.0 617.7L1134.0 628.7M1123.0 628.7L1134.0 617.7"/><path d="M1141.4 697.2H1152.4M1146.9 691.7V702.7"/><path stroke-width="1.1" d="M1141.4 691.7L1152.4 702.7M1141.4 702.7L1152.4 691.7"/><path d="M1159.9 734.0H1170.9M1165.4 728.5V739.5"/><path stroke-width="1.1" d="M1159.9 728.5L1170.9 739.5M1159.9 739.5L1170.9 728.5"/><path d="M1178.3 763.5H1189.3M1183.8 758.0V769.0"/><path stroke-width="1.1" d="M1178.3 758.0L1189.3 769.0M1178.3 769.0L1189.3 758.0"/><path d="M1196.8 764.5H1207.8M1202.3 759.0V770.0"/><path stroke-width="1.1" d="M1196.8 759.0L1207.8 770.0M1196.8 770.0L1207.8 759.0"/><path d="M1215.3 664.4H1226.3M1220.8 658.9V669.9"/><path stroke-width="1.1" d="M1215.3 658.9L1226.3 669.9M1215.3 669.9L1226.3 658.9"/><path d="M1233.7 516.3H1244.7M1239.2 510.8V521.8"/><path stroke-width="1.1" d="M1233.7 510.8L1244.7 521.8M1233.7 521.8L1244.7 510.8"/><path d="M1252.2 443.5H1263.2M1257.7 438.0V449.0"/><path stroke-width="1.1" d="M1252.2 438.0L1263.2 449.0M1252.2 449.0L1263.2 438.0"/><path d="M1270.6 581.5H1281.6M1276.1 576.0V587.0"/><path stroke-width="1.1" d="M1270.6 576.0L1281.6 587.0M1270.6 587.0L1281.6 576.0"/><path d="M1289.1 666.3H1300.1M1294.6 660.8V671.8"/><path stroke-width="1.1" d="M1289.1 660.8L1300.1 671.8M1289.1 671.8L1300.1 660.8"/><path d="M1307.5 710.0H1318.5M1313.0 704.5V715.5"/><path stroke-width="1.1" d="M1307.5 704.5L1318.5 715.5M1307.5 715.5L1318.5 704.5"/><path d="M1326.0 724.9H1337.0M1331.5 719.4V730.4"/><path stroke-width="1.1" d="M1326.0 719.4L1337.0 730.4M1326.0 730.4L1337.0 719.4"/><path d="M1344.5 715.3H1355.5M1350.0 709.8V720.8"/><path stroke-width="1.1" d="M1344.5 709.8L1355.5 720.8M1344.5 720.8L1355.5 709.8"/><path d="M1362.9 610.3H1373.9M1368.4 604.8V615.8"/><path stroke-width="1.1" d="M1362.9 604.8L1373.9 615.8M1362.9 615.8L1373.9 604.8"/><path d="M1381.4 477.3H1392.4M1386.9 471.8V482.8"/><path stroke-width="1.1" d="M1381.4 471.8L1392.4 482.8M1381.4 482.8L1392.4 471.8"/><path d="M1399.8 447.5H1410.8M1405.3 442.0V453.0"/><path stroke-width="1.1" d="M1399.8 442.0L1410.8 453.0M1399.8 453.0L1410.8 442.0"/><path d="M1436.8 640.4H1447.8M1442.3 634.9V645.9"/><path stroke-width="1.1" d="M1436.8 634.9L1447.8 645.9M1436.8 645.9L1447.8 634.9"/></g><g fill="#00ffff"><path d="M218.3 585.1H229.7L224.0 595.3Z"/><path d="M224.5 511.1H235.9L230.2 521.3Z"/><path d="M230.6 576.0H242.0L236.3 586.2Z"/><path d="M236.8 586.0H248.2L242.5 596.2Z"/><path d="M242.9 590.0H254.3L248.6 600.2Z"/><path d="M249.1 649.9H260.5L254.8 660.1Z"/><path d="M255.2 707.7H266.6L260.9 717.9Z"/><path d="M261.4 718.8H272.8L267.1 729.0Z"/><path d="M267.5 757.9H278.9L273.2 768.1Z"/><path d="M273.7 773.8H285.1L279.4 784.0Z"/><path d="M279.8 777.0H291.2L285.5 787.2Z"/><path d="M286.0 772.5H297.4L291.7 782.7Z"/><path d="M292.1 784.8H303.5L297.8 795.0Z"/><path d="M298.3 795.9H309.7L304.0 806.1Z"/><path d="M304.4 783.5H315.8L310.1 793.7Z"/><path d="M310.6 745.8H322.0L316.3 756.0Z"/><path d="M316.7 740.0H328.1L322.4 750.2Z"/><path d="M322.9 721.1H334.3L328.6 731.3Z"/><path d="M329.1 705.9H340.5L334.8 716.1Z"/><path d="M335.2 675.9H346.6L340.9 686.1Z"/><path d="M341.4 623.0H352.8L347.1 633.2Z"/><path d="M347.5 576.6H358.9L353.2 586.8Z"/><path d="M353.7 514.0H365.1L359.4 524.2Z"/><path d="M359.8 523.2H371.2L365.5 533.4Z"/><path d="M366.0 547.7H377.4L371.7 557.9Z"/><path d="M372.1 595.8H383.5L377.8 606.0Z"/><path d="M378.3 637.9H389.7L384.0 648.1Z"/><path d="M384.4 672.0H395.8L390.1 682.2Z"/><path d="M390.6 704.3H402.0L396.3 714.5Z"/><path d="M396.7 762.9H408.1L402.4 773.1Z"/><path d="M402.9 779.8H414.3L408.6 790.0Z"/><path d="M409.0 781.1H420.4L414.7 791.3Z"/><path d="M415.2 785.4H426.6L420.9 795.6Z"/><path d="M421.3 798.7H432.7L427.0 808.9Z"/><path d="M427.5 804.1H438.9L433.2 814.3Z"/><path d="M433.6 797.9H445.0L439.3 808.1Z"/><path d="M439.8 798.6H451.2L445.5 808.8Z"/><path d="M446.0 800.7H457.4L451.7 810.9Z"/><path d="M452.1 796.5H463.5L457.8 806.7Z"/><path d="M458.3 806.2H469.7L464.0 816.4Z"/><path d="M464.4 819.1H475.8L470.1 829.3Z"/><path d="M470.6 772.0H482.0L476.3 782.2Z"/><path d="M476.7 728.0H488.1L482.4 738.2Z"/><path d="M482.9 700.3H494.3L488.6 710.5Z"/><path d="M489.0 663.0H500.4L494.7 673.2Z"/><path d="M495.2 619.7H506.6L500.9 629.9Z"/><path d="M501.3 585.0H512.7L507.0 595.2Z"/><path d="M507.5 571.1H518.9L513.2 581.3Z"/><path d="M513.6 561.9H525.0L519.3 572.1Z"/><path d="M519.8 586.0H531.2L525.5 596.2Z"/><path d="M525.9 632.6H537.3L531.6 642.8Z"/><path d="M532.1 660.7H543.5L537.8 670.9Z"/><path d="M538.2 668.7H549.6L543.9 678.9Z"/><path d="M544.4 651.9H555.8L550.1 662.1Z"/><path d="M550.6 628.8H562.0L556.3 639.0Z"/><path d="M556.7 656.8H568.1L562.4 667.0Z"/><path d="M562.9 628.8H574.3L568.6 639.0Z"/><path d="M569.0 635.0H580.4L574.7 645.2Z"/><path d="M575.2 625.2H586.6L580.9 635.4Z"/><path d="M581.3 627.4H592.7L587.0 637.6Z"/><path d="M587.5 626.7H598.9L593.2 636.9Z"/><path d="M593.6 620.0H605.0L599.3 630.2Z"/><path d="M599.8 632.9H611.2L605.5 643.1Z"/><path d="M605.9 629.0H617.3L611.6 639.2Z"/><path d="M612.1 656.9H623.5L617.8 667.1Z"/><path d="M618.2 699.0H629.6L623.9 709.2Z"/><path d="M624.4 654.1H635.8L630.1 664.3Z"/><path d="M630.5 640.7H641.9L636.2 650.9Z"/><path d="M636.7 584.2H648.1L642.4 594.4Z"/><path d="M642.8 648.7H654.2L648.5 658.9Z"/><path d="M649.0 572.1H660.4L654.7 582.3Z"/><path d="M655.1 589.9H666.5L660.8 600.1Z"/><path d="M661.3 539.1H672.7L667.0 549.3Z"/></g></svg>
</body></html>
